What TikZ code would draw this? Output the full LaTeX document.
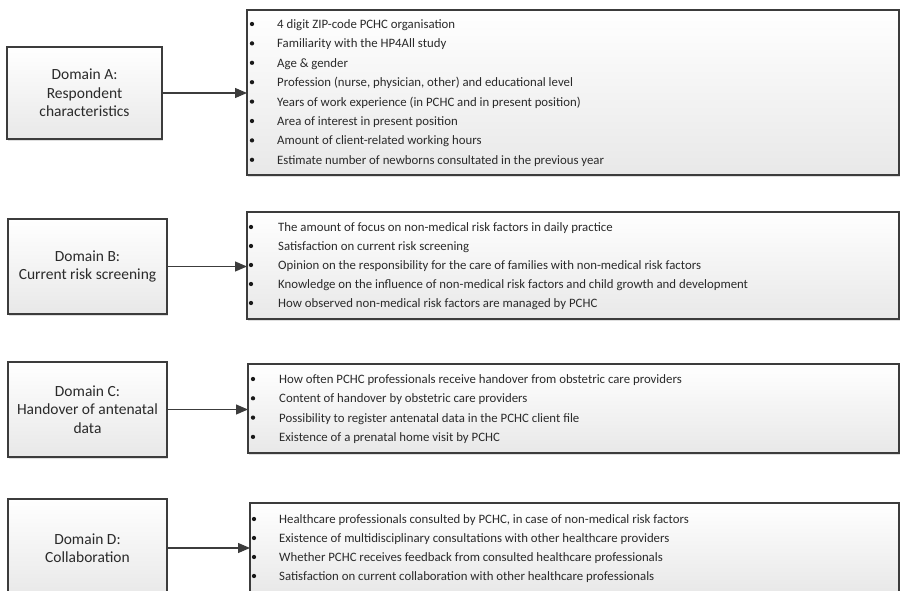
\documentclass[tikz,border=0pt]{standalone}
\usepackage{fontspec}
\setmainfont{Carlito}
\usetikzlibrary{shadows,arrows.meta}
\definecolor{edge}{HTML}{3C3C3C}
\definecolor{ink}{HTML}{2A2A2A}
\tikzset{
  panel/.style={draw=edge, line width=1.1pt, top color=white, bottom color=black!9,
    drop shadow={shadow xshift=1pt, shadow yshift=-2pt, opacity=0.25, fill=gray},
    inner sep=0pt, outer sep=0pt},
  domainbox/.style={panel, align=center, text=ink, font=\fontsize{15.5}{18.5}\selectfont},
  itemtext/.style={anchor=base west, text=ink, font=\fontsize{12.8}{15}\selectfont, inner sep=0pt},
  dot/.style={circle, fill=black!90, inner sep=0pt, minimum size=4.3pt},
  link/.style={draw=edge, line width=1.1pt, -{Triangle[length=12pt,width=10pt]}},
}
\begin{document}
\begin{tikzpicture}[x=1pt,y=-1pt]
\useasboundingbox (0,0) rectangle (900,591);
\clip (0,0) rectangle (900,591);

% domain boxes
\node[domainbox, minimum width=155pt, minimum height=92pt] (dA) at (84.5,93)
  {Domain A:\\Respondent\\characteristics};
\node[domainbox, minimum width=159pt, minimum height=95pt] (dB) at (87.5,266.5)
  {Domain B:\\Current risk screening};
\node[domainbox, minimum width=159pt, minimum height=95pt] (dC) at (87.5,409.5)
  {Domain C:\\Handover of antenatal\\data};
\node[domainbox, minimum width=159pt, minimum height=98pt] (dD) at (87.5,548)
  {Domain D:\\Collaboration};

% item panels
\node[panel, minimum width=652pt, minimum height=165pt] (lA) at (573,92.5) {};
\node[panel, minimum width=652pt, minimum height=107pt] (lB) at (573,265.5) {};
\node[panel, minimum width=651pt, minimum height=89pt] (lC) at (573.5,408.5) {};
\node[panel, minimum width=649pt, minimum height=90pt] (lD) at (574.5,548) {};

% connectors
\draw[link] (dA.east) -- (dA.east -| lA.west);
\draw[link] (dB.east) -- (dB.east -| lB.west);
\draw[link] (dC.east) -- (dC.east -| lC.west);
\draw[link] (dD.east) -- (dD.east -| lD.west);

% bullet lists
\foreach \t [count=\i from 0] in {
  {4 digit ZIP-code PCHC organisation},
  {Familiarity with the HP4All study},
  {Age \& gender},
  {Profession (nurse, physician, other) and educational level},
  {Years of work experience (in PCHC and in present position)},
  {Area of interest in present position},
  {Amount of client-related working hours},
  {Estimate number of newborns consultated in the previous year}}
{
  \node[dot] (aBul\i) at (252,24+19.4*\i) {};
  \node[itemtext] (aTxt\i) at (277,28.5+19.4*\i) {\t};
}
\foreach \t [count=\i from 0] in {
  {The amount of focus on non-medical risk factors in daily practice},
  {Satisfaction on current risk screening},
  {Opinion on the responsibility for the care of families with non-medical risk factors},
  {Knowledge on the influence of non-medical risk factors and child growth and development},
  {How observed non-medical risk factors are managed by PCHC}}
{
  \node[dot] (bBul\i) at (251,227+19*\i) {};
  \node[itemtext] (bTxt\i) at (278,231.5+19*\i) {\t};
}
\foreach \t [count=\i from 0] in {
  {How often PCHC professionals receive handover from obstetric care providers},
  {Content of handover by obstetric care providers},
  {Possibility to register antenatal data in the PCHC client file},
  {Existence of a prenatal home visit by PCHC}}
{
  \node[dot] (cBul\i) at (253,379+19.3*\i) {};
  \node[itemtext] (cTxt\i) at (279,383.5+19.3*\i) {\t};
}
\foreach \t [count=\i from 0] in {
  {Healthcare professionals consulted by PCHC, in case of non-medical risk factors},
  {Existence of multidisciplinary consultations with other healthcare providers},
  {Whether PCHC receives feedback from consulted healthcare professionals},
  {Satisfaction on current collaboration with other healthcare professionals}}
{
  \node[dot] (dBul\i) at (254,519+19*\i) {};
  \node[itemtext] (dTxt\i) at (279,523.5+19*\i) {\t};
}
\end{tikzpicture}
\end{document}
